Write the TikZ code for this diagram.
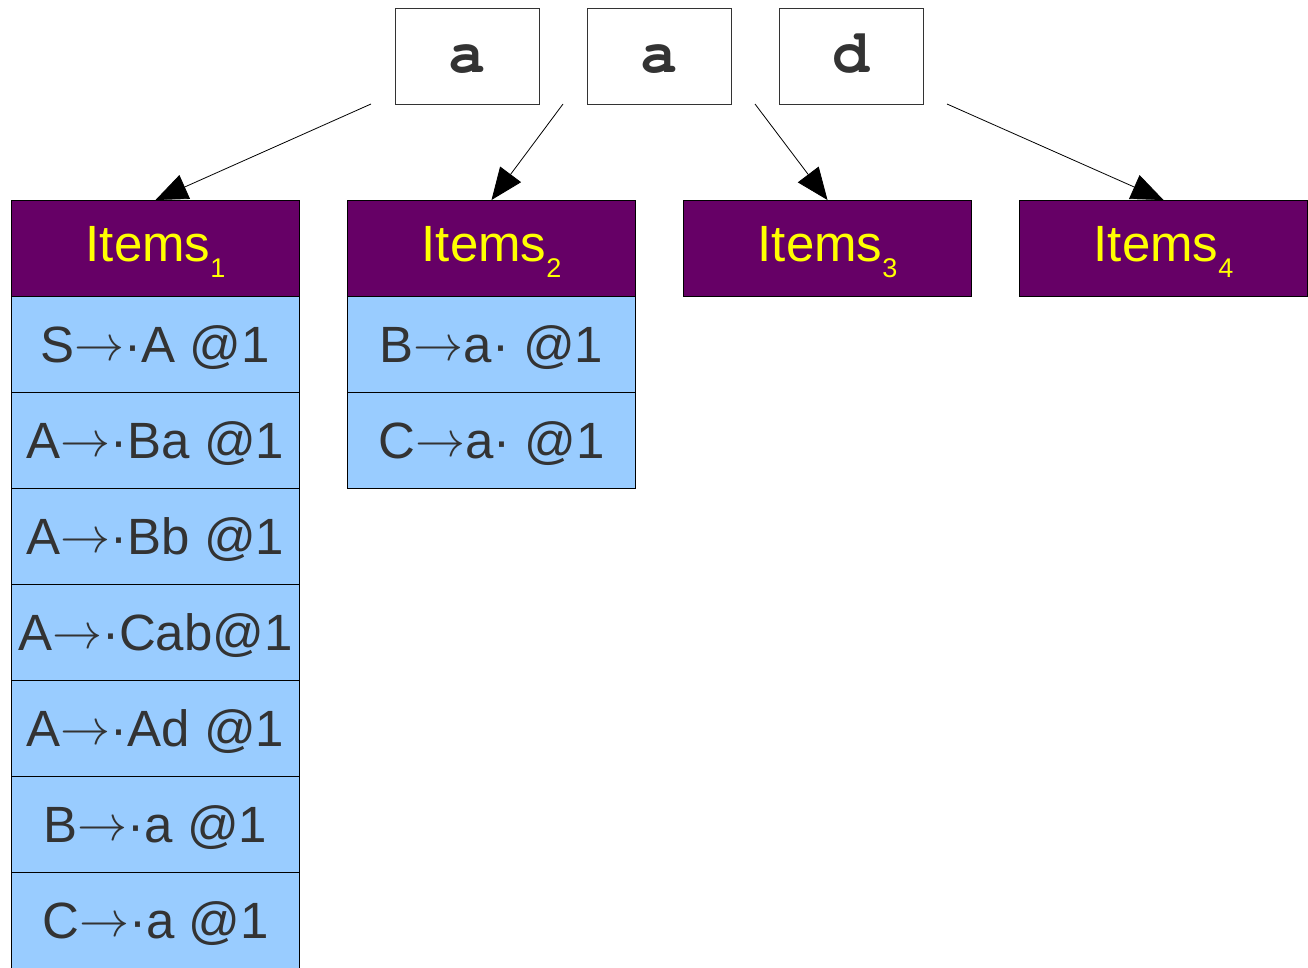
\documentclass[tikz,border=0pt]{standalone}
\usepackage{graphicx}
\usepackage{fontspec}
\setmainfont{Liberation Sans}
\usetikzlibrary{arrows.meta}
\definecolor{hdrfill}{HTML}{660066}
\definecolor{hdrtext}{HTML}{FFFF00}
\definecolor{rowfill}{HTML}{99CCFF}
\definecolor{txt}{HTML}{333333}
\newcommand{\itemsub}[1]{Items\raisebox{-16pt}{\fontsize{27}{27}\selectfont #1}}
\newcommand{\ar}{\raisebox{2pt}{\scalebox{5}{\fontsize{10}{10}\selectfont$\rightarrow$}}}
\newcommand{\courb}{\fontencoding{OT1}\fontfamily{pcr}\fontseries{b}\fontshape{n}\fontsize{62}{62}\selectfont}
\begin{document}
\begin{tikzpicture}[x=1pt,y=-1pt,
  tokbox/.style={draw=txt,line width=1pt,fill=white,minimum width=144pt,minimum height=96pt,inner sep=0pt,anchor=north west,
    font=\courb,text=txt,text height=32pt,text depth=0pt},
  hdrbox/.style={draw=black,line width=1pt,fill=hdrfill,minimum width=288pt,minimum height=96pt,inner sep=0pt,anchor=north west,
    font=\fontsize{51}{51}\selectfont,text=hdrtext,text height=36.5pt,text depth=10pt},
  rowbox/.style={draw=black,line width=1pt,fill=rowfill,minimum width=288pt,minimum height=96pt,inner sep=0pt,anchor=north west,
    font=\fontsize{51}{51}\selectfont,text=txt,text height=36.5pt,text depth=0pt},
  conn/.style={line width=0.8pt,-{Triangle[length=32pt,width=26pt]}}]
\useasboundingbox (0,0) rectangle (1308,967);
\fill[white] (0,0) rectangle (1308,967);
% tokens
\node[tokbox] (t1) at (395,8) {a};
\node[tokbox] (t2) at (587,8) {a};
\node[tokbox] (t3) at (779,8) {d};
% headers
\node[hdrbox] (h1) at (11,200) {\itemsub{1}};
\node[hdrbox] (h2) at (347,200) {\itemsub{2}};
\node[hdrbox] (h3) at (683,200) {\itemsub{3}};
\node[hdrbox] (h4) at (1019,200) {\itemsub{4}};
% column 1 rows
\node[rowbox] (r11) at (11,296) {S\ar·A @1};
\node[rowbox] (r12) at (11,392) {A\ar·Ba @1};
\node[rowbox] (r13) at (11,488) {A\ar·Bb @1};
\node[rowbox] (r14) at (11,584) {A\ar·Cab@1};
\node[rowbox] (r15) at (11,680) {A\ar·Ad @1};
\node[rowbox] (r16) at (11,776) {B\ar·a @1};
\node[rowbox] (r17) at (11,872) {C\ar·a @1};
% column 2 rows
\node[rowbox] (r21) at (347,296) {B\ar a· @1};
\node[rowbox] (r22) at (347,392) {C\ar a· @1};
% arrow start points
\coordinate (s1) at (371,104);
\coordinate (s2) at (563,104);
\coordinate (s3) at (755,104);
\coordinate (s4) at (947,104);
\draw[conn] (s1) -- (h1.north);
\draw[conn] (s2) -- (h2.north);
\draw[conn] (s3) -- (h3.north);
\draw[conn] (s4) -- (h4.north);
\end{tikzpicture}
\end{document}
